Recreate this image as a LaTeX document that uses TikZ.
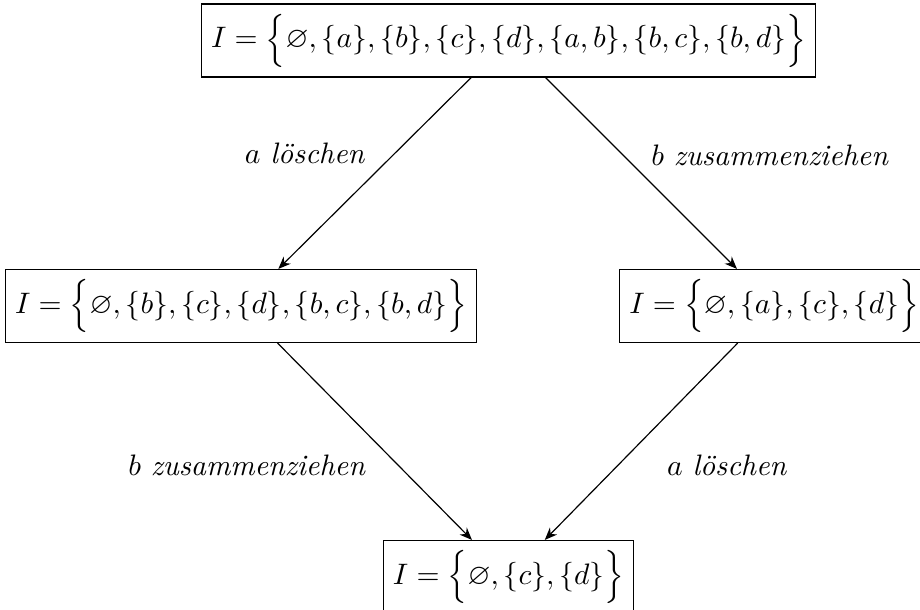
\documentclass[tikz,border=0pt]{standalone}
\usepackage{amsmath,amssymb}
\usepackage{tikz}
\usetikzlibrary{positioning,arrows.meta}
\tikzset{
  menge/.style={rectangle, draw, inner sep=3.33pt},
  schritt/.style={-{Stealth[length=4.2pt,width=3.4pt]}},
  lbl/.style={inner sep=1pt},
}
\begin{document}
\begin{tikzpicture}[x=0.3378pt, y=-0.3378pt]
  \useasboundingbox (0,0) rectangle (920,609);

  % ===== Mengen ==========================================================
  \node[menge] (top) at (508.5,40.5)
    {$I = \Big\{\varnothing, \{a\}, \{b\}, \{c\}, \{d\}, \{a,b\}, \{b,c\}, \{b,d\}\Big\}$};
  \node[menge] (li) at (241,306)
    {$I = \Big\{\varnothing, \{b\}, \{c\}, \{d\}, \{b,c\}, \{b,d\}\Big\}$};
  \node[menge] (re) at (774,306)
    {$I = \Big\{\varnothing, \{a\}, \{c\}, \{d\}\Big\}$};
  \node[menge] (un) at (508.5,577)
    {$I = \Big\{\varnothing, \{c\}, \{d\}\Big\}$};

  % ===== Schritte ========================================================
  \draw[schritt] (top) -- (li);
  \draw[schritt] (top) -- (re);
  \draw[schritt] (li) -- (un);
  \draw[schritt] (re) -- (un);

  \node[lbl] (l1) at (305,153) {$a$ \textit{löschen}};
  \node[lbl] (l2) at (770,155) {$b$ \textit{zusammenziehen}};
  \node[lbl] (l3) at (247,465) {$b$ \textit{zusammenziehen}};
  \node[lbl] (l4) at (727,465) {$a$ \textit{löschen}};
\end{tikzpicture}
\end{document}
